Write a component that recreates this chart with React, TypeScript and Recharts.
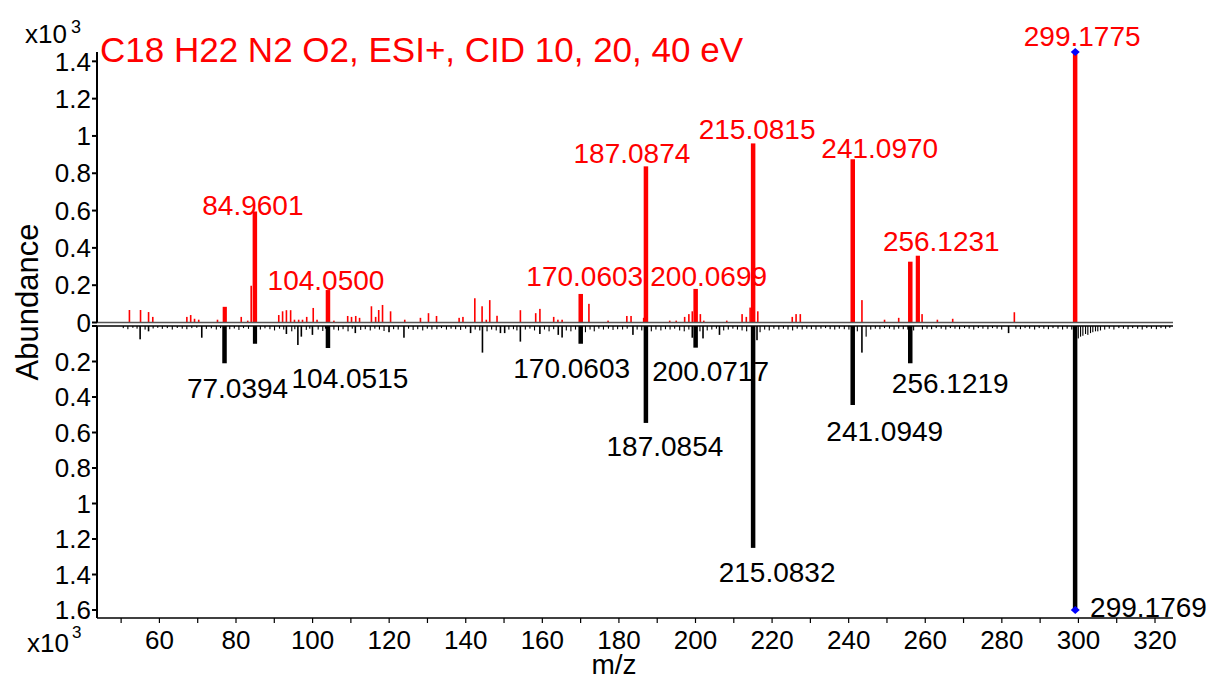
import React from 'react';
import { ComposedChart, Bar, XAxis, YAxis, ReferenceLine, Scatter, LabelList } from 'recharts';

const FONT = '"Liberation Sans", Arial, Helvetica, sans-serif';
const RED = '#ff0000';
const BLACK = '#000000';
const BLUE = '#0000ff';

const X_DOMAIN: [number, number] = [43.7, 324.7];
const X_TICKS = [50, 60, 70, 80, 90, 100, 110, 120, 130, 140, 150, 160, 170, 180, 190, 200, 210, 220, 230, 240, 250, 260, 270, 280, 290, 300, 310, 320];
const TOP_TICKS = [0, 0.2, 0.4, 0.6, 0.8, 1, 1.2, 1.4];
const BOTTOM_TICKS = [0, 0.2, 0.4, 0.6, 0.8, 1, 1.2, 1.4, 1.6];

// ---- Upper (red) spectrum, abundance x10^3 ----
const upperLabeledMz = [84.9601, 104.05, 170.0603, 187.0874, 200.0699, 215.0815, 241.097, 256.1231, 299.1775];
const upperLabeledAbund = [0.595, 0.174, 0.153, 0.837, 0.18, 0.96, 0.875, 0.326, 1.45];
const upperLabels = ['84.9601', '104.0500', '170.0603', '187.0874', '200.0699', '215.0815', '241.0970', '256.1231', '299.1775'];
const upperStrong: [number, number][] = [[77.1, 0.084], [258.1, 0.358]];
const upperMinor: [number, number][] = [
  [52.2, 0.067], [55.1, 0.067], [57.2, 0.056], [58.3, 0.03], [67.2, 0.03], [68.2, 0.04], [69.2, 0.02], [70.3, 0.015],
  [75.2, 0.015], [81.4, 0.03], [83.1, 0.01], [84.0, 0.197], [91.2, 0.04], [92.2, 0.06], [93.2, 0.066], [94.3, 0.066],
  [95.3, 0.015], [96.4, 0.015], [97.4, 0.015], [98.5, 0.03], [100.2, 0.078], [101.2, 0.015], [105.6, 0.01], [109.2, 0.035],
  [110.2, 0.03], [111.3, 0.035], [112.3, 0.025], [115.4, 0.087], [116.5, 0.03], [117.3, 0.067], [118.3, 0.094], [120.4, 0.06],
  [124.1, 0.015], [128.2, 0.025], [130.3, 0.05], [132.4, 0.035], [138.3, 0.025], [139.3, 0.03], [142.4, 0.13], [144.3, 0.087],
  [145.4, 0.015], [146.3, 0.12], [148.2, 0.036], [154.3, 0.066], [158.3, 0.05], [159.4, 0.073], [163.0, 0.03], [164.1, 0.015],
  [165.2, 0.015], [172.2, 0.1], [177.2, 0.01], [182.1, 0.035], [183.2, 0.035], [186.5, 0.025], [193.3, 0.01], [195.0, 0.01],
  [197.2, 0.03], [198.3, 0.045], [199.2, 0.06], [201.3, 0.045], [202.2, 0.01], [208.2, 0.01], [212.2, 0.045], [213.3, 0.03],
  [214.3, 0.08], [216.3, 0.06], [225.3, 0.03], [226.3, 0.045], [227.4, 0.045], [243.5, 0.12], [249.4, 0.015], [253.1, 0.025],
  [259.2, 0.045], [263.2, 0.015], [267.2, 0.02], [283.3, 0.055],
];

// ---- Lower (black) spectrum, abundance x10^3 ----
const lowerLabeledMz = [77.0394, 104.0515, 170.0603, 187.0854, 200.0717, 215.0832, 241.0949, 256.1219, 299.1769];
const lowerLabeledAbund = [0.21, 0.124, 0.1, 0.546, 0.122, 1.25, 0.445, 0.21, 1.6];
const lowerLabels = ['77.0394', '104.0515', '170.0603', '187.0854', '200.0717', '215.0832', '241.0949', '256.1219', '299.1769'];
const lowerStrong: [number, number][] = [[85.0, 0.1]];
const lowerMinor: [number, number][] = [
  [55.0, 0.075], [57.2, 0.03], [71.1, 0.066], [93.2, 0.045], [96.2, 0.107], [97.1, 0.06], [100.0, 0.05], [111.2, 0.04],
  [120.0, 0.035], [123.9, 0.066], [141.3, 0.04], [144.4, 0.15], [149.1, 0.04], [150.2, 0.04], [154.3, 0.088], [159.4, 0.045],
  [164.2, 0.05], [165.2, 0.065], [183.7, 0.05], [199.2, 0.066], [202.0, 0.07], [206.3, 0.05], [216.1, 0.08], [243.5, 0.15],
  [281.8, 0.04],
];
const lowerNoise: [number, number][] = [
  [50.6, 0.012], [51.8, 0.018], [53.1, 0.01], [54.2, 0.015], [56.3, 0.02], [58.4, 0.014], [59.6, 0.01], [60.8, 0.016],
  [62.1, 0.012], [63.4, 0.02], [64.7, 0.011], [66.0, 0.015], [67.2, 0.018], [68.5, 0.012], [69.8, 0.01], [72.3, 0.016],
  [73.6, 0.013], [74.9, 0.02], [76.0, 0.012], [78.4, 0.018], [79.6, 0.014], [80.8, 0.022], [82.0, 0.012], [83.3, 0.016],
  [86.4, 0.02], [87.6, 0.013], [88.9, 0.018], [90.1, 0.025], [91.4, 0.015], [92.5, 0.02], [94.6, 0.03], [95.4, 0.018],
  [98.4, 0.022], [99.3, 0.015], [101.5, 0.02], [102.7, 0.028], [103.4, 0.015], [105.6, 0.02], [106.8, 0.025], [108.0, 0.018],
  [109.3, 0.03], [110.4, 0.015], [112.6, 0.022], [113.8, 0.018], [115.1, 0.025], [116.3, 0.015], [117.5, 0.02], [118.7, 0.028],
  [121.2, 0.018], [122.4, 0.02], [125.1, 0.015], [126.3, 0.022], [127.5, 0.018], [128.8, 0.025], [130.0, 0.015], [131.2, 0.02],
  [132.5, 0.018], [133.7, 0.012], [135.0, 0.02], [136.2, 0.015], [137.4, 0.018], [138.7, 0.022], [140.0, 0.015], [142.5, 0.02],
  [143.7, 0.025], [145.6, 0.03], [146.8, 0.02], [148.0, 0.025], [151.3, 0.02], [152.5, 0.018], [153.4, 0.025], [155.6, 0.02],
  [156.8, 0.015], [158.0, 0.025], [160.6, 0.02], [161.8, 0.03], [163.0, 0.018], [166.3, 0.025], [167.5, 0.03], [168.7, 0.02],
  [171.3, 0.035], [172.5, 0.02], [173.6, 0.03], [174.8, 0.015], [176.0, 0.02], [177.3, 0.015], [178.5, 0.022], [179.7, 0.018],
  [181.0, 0.02], [182.2, 0.015], [184.8, 0.02], [186.0, 0.025], [188.5, 0.03], [189.7, 0.02], [191.0, 0.025], [192.2, 0.018],
  [193.4, 0.02], [194.6, 0.015], [195.9, 0.025], [197.1, 0.03], [198.3, 0.02], [201.2, 0.03], [203.1, 0.025], [204.3, 0.02],
  [205.5, 0.015], [207.4, 0.025], [208.6, 0.02], [209.8, 0.015], [211.0, 0.02], [212.2, 0.025], [213.4, 0.03], [216.9, 0.035],
  [218.1, 0.02], [219.3, 0.025], [220.5, 0.015], [221.8, 0.02], [223.0, 0.015], [224.2, 0.02], [225.4, 0.025], [226.6, 0.015],
  [227.9, 0.02], [229.1, 0.015], [230.3, 0.018], [231.5, 0.02], [232.8, 0.015], [234.0, 0.012], [235.2, 0.018], [236.4, 0.02],
  [237.6, 0.015], [238.9, 0.018], [240.1, 0.02], [242.3, 0.03], [244.6, 0.06], [245.8, 0.02], [247.0, 0.015], [248.2, 0.018],
  [249.4, 0.012], [250.7, 0.015], [251.9, 0.02], [253.1, 0.015], [254.3, 0.018], [255.5, 0.02], [257.0, 0.025], [259.3, 0.02],
  [260.5, 0.015], [261.7, 0.018], [262.9, 0.012], [264.2, 0.015], [265.4, 0.02], [266.6, 0.012], [267.8, 0.015], [269.0, 0.018],
  [270.3, 0.012], [271.5, 0.015], [272.7, 0.02], [273.9, 0.012], [275.1, 0.015], [276.4, 0.018], [277.6, 0.012], [278.8, 0.015],
  [280.0, 0.02], [283.7, 0.015], [284.9, 0.018], [286.1, 0.012], [287.3, 0.015], [288.6, 0.02], [289.8, 0.012], [291.0, 0.015],
  [292.2, 0.018], [293.4, 0.012], [294.7, 0.015], [295.9, 0.02], [297.1, 0.015], [298.3, 0.02], [300.0, 0.07], [300.6, 0.06],
  [301.2, 0.055], [301.9, 0.045], [302.5, 0.05], [303.2, 0.04], [303.8, 0.035], [304.5, 0.03], [305.1, 0.03], [305.8, 0.025],
  [306.9, 0.02], [308.1, 0.015], [309.3, 0.02], [310.6, 0.012], [311.8, 0.015], [313.0, 0.018], [314.2, 0.012], [315.5, 0.015],
  [316.7, 0.02], [317.9, 0.012], [319.1, 0.015], [320.4, 0.018], [321.6, 0.012], [322.8, 0.015], [323.9, 0.01],
];

type Row = { mz: number; v: number; kind: string; label?: string };

function buildRows(
  labMz: number[], labAb: number[], labels: string[],
  strong: [number, number][], minor: [number, number][], noise: [number, number][]
): Row[] {
  const rows: Row[] = [];
  noise.forEach(([mz, v]) => rows.push({ mz, v, kind: 'noise' }));
  minor.forEach(([mz, v]) => rows.push({ mz, v, kind: 'minor' }));
  strong.forEach(([mz, v]) => rows.push({ mz, v, kind: 'strong' }));
  labMz.forEach((mz, i) => rows.push({ mz, v: labAb[i], kind: 'major', label: labels[i] }));
  return rows;
}

const upperRows = buildRows(upperLabeledMz, upperLabeledAbund, upperLabels, upperStrong, upperMinor, []);
const lowerRows = buildRows(lowerLabeledMz, lowerLabeledAbund, lowerLabels, lowerStrong, lowerMinor, lowerNoise);

const upperPrecursor = [{ mz: upperLabeledMz[8], v: upperLabeledAbund[8] }];
const lowerPrecursor = [{ mz: lowerLabeledMz[8], v: lowerLabeledAbund[8] }];

// ---- styling / layout (not data) ----
const WIDTHS: Record<string, number> = { major: 4.5, strong: 4.2, minor: 1.6, noise: 1.1 };

const upperLabelLayout: Record<string, { dx: number; dy: number; anchor?: string }> = {
  '84.9601': { dx: -2, dy: 3 },
  '104.0500': { dx: -2, dy: 0 },
  '170.0603': { dx: 4, dy: -8 },
  '187.0874': { dx: -14, dy: -3 },
  '200.0699': { dx: 13, dy: -3 },
  '215.0815': { dx: 4, dy: -4 },
  '241.0970': { dx: 27, dy: -1 },
  '256.1231': { dx: 31, dy: -11 },
  '299.1775': { dx: 7, dy: -6 },
};
const lowerLabelLayout: Record<string, { dx: number; dy: number; anchor?: string }> = {
  '77.0394': { dx: 13, dy: 35 },
  '104.0515': { dx: 22, dy: 40 },
  '170.0603': { dx: -9, dy: 34 },
  '187.0854': { dx: 19, dy: 33 },
  '200.0717': { dx: 15, dy: 33 },
  '215.0832': { dx: 24, dy: 34 },
  '241.0949': { dx: 32, dy: 36 },
  '256.1219': { dx: 40, dy: 30 },
  '299.1769': { dx: 15, dy: 7, anchor: 'start' },
};

function makeBarShape(color: string) {
  return (props: any) => {
    const { x, y, width, height, payload } = props;
    if (x == null || y == null || !payload) return <g />;
    const cx = x + (width || 0) / 2;
    const w = WIDTHS[payload.kind] || 1.5;
    const h = Math.abs(height || 0);
    const top = Math.min(y, y + (height || 0));
    return <rect x={cx - w / 2} y={top} width={w} height={Math.max(h, 0.5)} fill={color} />;
  };
}

function makeLabel(layout: Record<string, { dx: number; dy: number; anchor?: string }>, color: string, down: boolean) {
  return (props: any) => {
    const { x, y, width, height, value } = props;
    if (value == null || value === '' || x == null) return null;
    const lay = layout[String(value)] || { dx: 0, dy: 0 };
    const cx = x + (width || 0) / 2;
    const tip = down ? Math.max(y, y + (height || 0)) : Math.min(y, y + (height || 0));
    return (
      <text
        x={cx + lay.dx}
        y={tip + lay.dy}
        textAnchor={(lay.anchor as any) || 'middle'}
        fontSize={28}
        fontFamily={FONT}
        fill={color}
      >
        {value}
      </text>
    );
  };
}

const diamond = (props: any) => {
  const { cx, cy } = props;
  if (cx == null || cy == null) return <g />;
  return <polygon points={`${cx - 4.5},${cy} ${cx},${cy - 4} ${cx + 4.5},${cy} ${cx},${cy + 4}`} fill={BLUE} />;
};

const tickStyle = { fill: BLACK, fontSize: 26, fontFamily: FONT };

export default function App() {
  return (
    <div style={{ position: 'absolute', left: 0, top: 0, width: 1214, height: 681, background: '#ffffff', fontFamily: FONT, overflow: 'hidden' }}>
      <div style={{ position: 'absolute', left: 0, top: 0 }}>
        <ComposedChart width={1214} height={345} data={upperRows} margin={{ top: 52, right: 41, bottom: 22.5, left: 37 }}>
          <XAxis type="number" dataKey="mz" domain={X_DOMAIN} hide />
          <YAxis
            type="number"
            domain={[0, 1.45]}
            ticks={TOP_TICKS}
            interval={0}
            width={60}
            tick={tickStyle}
            tickSize={5}
            tickMargin={1}
            axisLine={{ stroke: BLACK, strokeWidth: 2 }}
            tickLine={{ stroke: BLACK, strokeWidth: 2 }}
            tickFormatter={(v: number) => String(v)}
          />
          <ReferenceLine y={0} stroke="#555555" strokeWidth={1.5} />
          <Bar dataKey="v" barSize={2} isAnimationActive={false} shape={makeBarShape(RED)}>
            <LabelList dataKey="label" content={makeLabel(upperLabelLayout, RED, false)} />
          </Bar>
          <Scatter data={upperPrecursor} dataKey="v" isAnimationActive={false} shape={diamond} />
        </ComposedChart>
      </div>
      <div style={{ position: 'absolute', left: 0, top: 320 }}>
        <ComposedChart width={1214} height={361} data={lowerRows} margin={{ top: 6, right: 41, bottom: 0, left: 37 }}>
          <XAxis
            type="number"
            dataKey="mz"
            domain={X_DOMAIN}
            ticks={X_TICKS}
            interval={0}
            height={63}
            tick={tickStyle}
            tickSize={5}
            tickMargin={8}
            axisLine={{ stroke: BLACK, strokeWidth: 1.5 }}
            tickLine={{ stroke: BLACK, strokeWidth: 1.2 }}
            tickFormatter={(v: number) => (v % 20 === 0 ? String(v) : '')}
          />
          <YAxis
            type="number"
            reversed
            domain={[0, 1.645]}
            ticks={BOTTOM_TICKS}
            interval={0}
            width={60}
            tick={tickStyle}
            tickSize={5}
            tickMargin={1}
            axisLine={{ stroke: BLACK, strokeWidth: 2 }}
            tickLine={{ stroke: BLACK, strokeWidth: 2 }}
            tickFormatter={(v: number) => (v === 0 ? '' : String(v))}
          />
          <ReferenceLine y={0} stroke={BLACK} strokeWidth={1.5} />
          <Bar dataKey="v" barSize={2} isAnimationActive={false} shape={makeBarShape(BLACK)}>
            <LabelList dataKey="label" content={makeLabel(lowerLabelLayout, BLACK, true)} />
          </Bar>
          <Scatter data={lowerPrecursor} dataKey="v" isAnimationActive={false} shape={diamond} />
        </ComposedChart>
      </div>
      <svg width={1214} height={681} style={{ position: 'absolute', left: 0, top: 0, pointerEvents: 'none' }}>
        <text x={100} y={62} fontSize={35} fill={RED} fontFamily={FONT}>C18 H22 N2 O2, ESI+, CID 10, 20, 40 eV</text>
        <text x={25} y={43} fontSize={26} fill={BLACK} fontFamily={FONT}>x10</text>
        <text x={71} y={33} fontSize={18} fill={BLACK} fontFamily={FONT}>3</text>
        <text x={27} y={652} fontSize={26} fill={BLACK} fontFamily={FONT}>x10</text>
        <text x={72} y={638} fontSize={17} fill={BLACK} fontFamily={FONT}>3</text>
        <text transform="translate(38,302) rotate(-90)" textAnchor="middle" fontSize={31} fill={BLACK} fontFamily={FONT}>Abundance</text>
        <text x={614} y={674} textAnchor="middle" fontSize={28} fill={BLACK} fontFamily={FONT}>m/z</text>
      </svg>
    </div>
  );
}
